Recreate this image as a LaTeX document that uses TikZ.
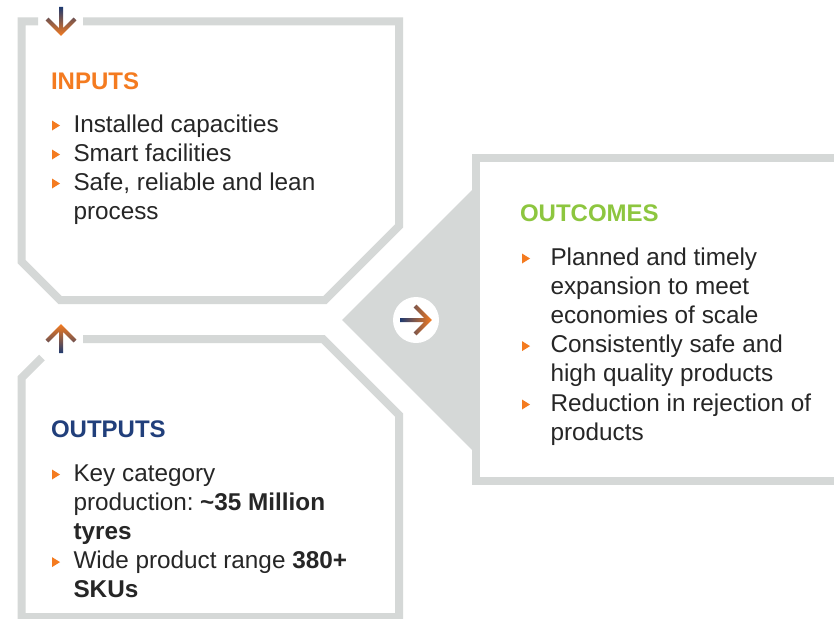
\documentclass[tikz,border=0pt]{standalone}
\usepackage{fontspec}
\setmainfont{Liberation Sans}
\definecolor{boxgrey}{HTML}{D5D8D7}
\definecolor{inorange}{HTML}{F47B20}
\definecolor{outgreen}{HTML}{8DC63F}
\definecolor{outnavy}{HTML}{213F7B}
\definecolor{bodytext}{HTML}{262626}
\definecolor{arrnavy}{HTML}{1F3A70}
\definecolor{arrorange}{HTML}{F47B20}
\tikzset{
  bulletmark/.pic={\fill[inorange] (0,-5) -- (8,0) -- (0,5) -- cycle;},
}
\begin{document}
\begin{tikzpicture}[x=1pt,y=-1pt,
  boxline/.style={draw=boxgrey, line width=8pt, line join=miter},
  body/.style={anchor=base west, inner sep=0pt, outer sep=0pt, text=bodytext, font=\fontsize{24.3}{29}\selectfont},
  title/.style={anchor=base west, inner sep=0pt, outer sep=0pt, font=\fontsize{24}{29}\selectfont\bfseries}]
\useasboundingbox (0,0) rectangle (834,618);
\clip (0,0) rectangle (834,618);
\fill[white] (0,0) rectangle (834,618);

% INPUTS box
\draw[boxline] (83,21.5) -- (399,21.5) -- (399,226) -- (325,300) -- (60,300) -- (21.5,261.5) -- (21.5,21.5) -- (38,21.5);
% OUTPUTS box
\draw[boxline] (83,339) -- (323,339) -- (399,415) -- (399,617) -- (21.5,617) -- (21.5,378) -- (42,357.5);
% OUTCOMES box
\draw[boxline] (845,157.5) -- (475.5,157.5) -- (475.5,481) -- (845,481);
% connector triangle
\fill[boxgrey] (342,320) -- (473,189) -- (473,451) -- cycle;
% circle
\fill[white] (416,320) circle[radius=23];

% arrows with gradient
\shade[top color=arrnavy, bottom color=arrorange]
  (59,7) -- (63,7) -- (63,28.17) -- (73.59,17.59) -- (76.41,20.41) -- (61,35.83)
  -- (45.59,20.41) -- (48.41,17.59) -- (59,28.17) -- cycle;
\shade[top color=arrorange, bottom color=arrnavy]
  (59,353) -- (63,353) -- (63,331.83) -- (73.59,342.41) -- (76.41,339.59) -- (61,324.17)
  -- (45.59,339.59) -- (48.41,342.41) -- (59,331.83) -- cycle;
\shade[left color=arrnavy, right color=arrorange]
  (400,322) -- (400,318) -- (424.17,318) -- (413.59,307.41) -- (416.41,304.59) -- (431.83,320)
  -- (416.41,335.41) -- (413.59,332.59) -- (424.17,322) -- cycle;

% INPUTS text
\node[title, text=inorange] (tin) at (51,89) {INPUTS};
\node[body] (in1) at (73.5,132) {Installed capacities};
\node[body] (in2) at (73.5,161) {Smart facilities};
\node[body] (in3) at (73.5,190) {Safe, reliable and lean};
\node[body] (in4) at (73.5,219) {process};
\pic at (52,125.5) {bulletmark};
\pic at (52,154.5) {bulletmark};
\pic at (52,183.5) {bulletmark};

% OUTCOMES text
\node[title, text=outgreen] (toc) at (520,221.5) {OUTCOMES};
\node[body] (oc1) at (550.5,265) {Planned and timely};
\node[body] (oc2) at (550.5,294.2) {expansion to meet};
\node[body] (oc3) at (550.5,323.4) {economies of scale};
\node[body] (oc4) at (550.5,352.6) {Consistently safe and};
\node[body] (oc5) at (550.5,381.8) {high quality products};
\node[body] (oc6) at (550.5,411) {Reduction in rejection of};
\node[body] (oc7) at (550.5,440.2) {products};
\pic at (522,258.5) {bulletmark};
\pic at (522,346.1) {bulletmark};
\pic at (522,404.5) {bulletmark};

% OUTPUTS text
\node[title, text=outnavy] (tout) at (51,437.7) {OUTPUTS};
\node[body] (ou1) at (73.5,481) {Key category};
\node[body] (ou2) at (73.5,510.2) {production:\hspace{6.5pt}\textbf{\textasciitilde35 Million}};
\node[body] (ou3) at (73.5,539.4) {\textbf{tyres}};
\node[body] (ou4) at (73.5,568.6) {Wide product range \textbf{380+}};
\node[body] (ou5) at (73.5,597.8) {\textbf{SKUs}};
\pic at (52,474.5) {bulletmark};
\pic at (52,562.1) {bulletmark};
\end{tikzpicture}
\end{document}
